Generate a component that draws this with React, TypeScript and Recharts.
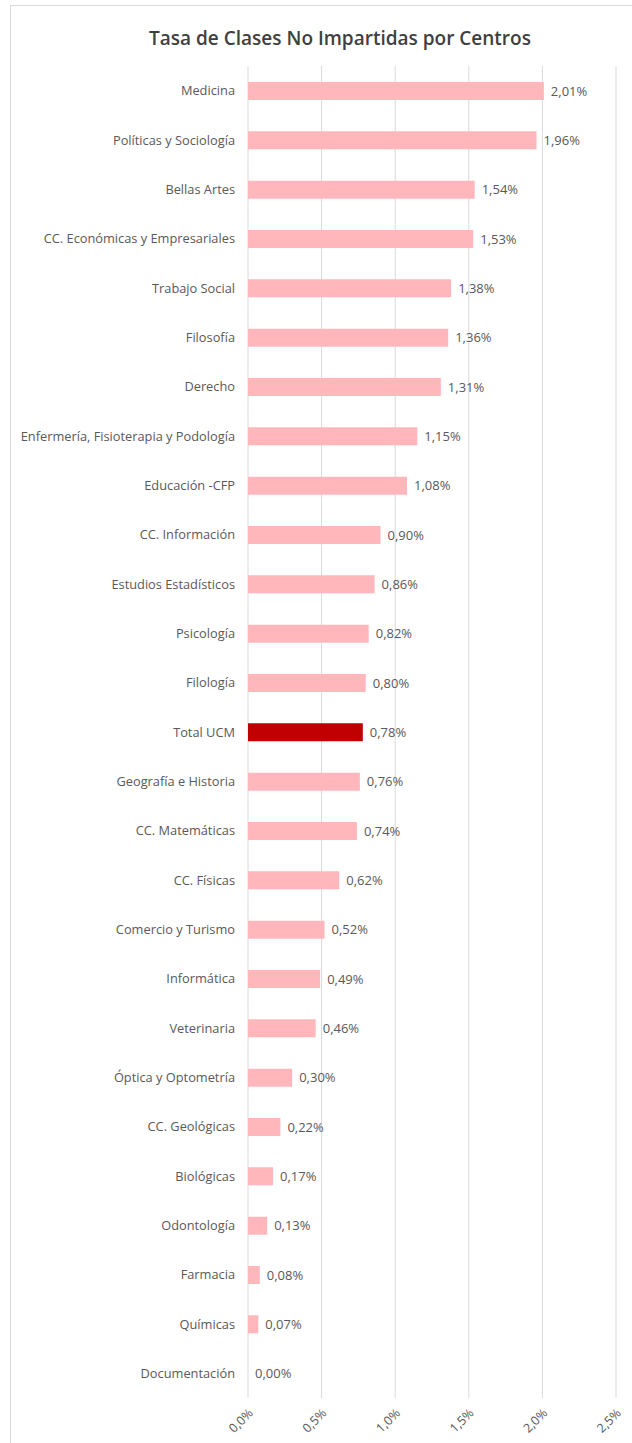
import React from "react";
import { BarChart, Bar, XAxis, YAxis, CartesianGrid, Cell, LabelList } from "recharts";

const categories = [
  "Medicina",
  "Políticas y Sociología",
  "Bellas Artes",
  "CC. Económicas y Empresariales",
  "Trabajo Social",
  "Filosofía",
  "Derecho",
  "Enfermería, Fisioterapia y Podología",
  "Educación -CFP",
  "CC. Información",
  "Estudios Estadísticos",
  "Psicología",
  "Filología",
  "Total UCM",
  "Geografía e Historia",
  "CC. Matemáticas",
  "CC. Físicas",
  "Comercio y Turismo",
  "Informática",
  "Veterinaria",
  "Óptica y Optometría",
  "CC. Geológicas",
  "Biológicas",
  "Odontología",
  "Farmacia",
  "Químicas",
  "Documentación",
];

const rates = [
  2.01, 1.96, 1.54, 1.53, 1.38, 1.36, 1.31, 1.15, 1.08, 0.9, 0.86, 0.82, 0.8, 0.78,
  0.76, 0.74, 0.62, 0.52, 0.49, 0.46, 0.3, 0.22, 0.17, 0.13, 0.08, 0.07, 0.0,
];

const xTicks = [0, 0.5, 1, 1.5, 2, 2.5];
const highlight = "Total UCM";

const data = categories.map((name, i) => ({ name, value: rates[i] }));

const FONT = "'Open Sans', Lato, sans-serif";
const TEXT = "#595959";

const YTick = (props: any) => {
  const { x, y, payload } = props;
  return (
    <text x={x - 5} y={y} dy={4.5} textAnchor="end" fill={TEXT} fontSize={12.8} fontFamily={FONT}>
      {payload.value}
    </text>
  );
};

const XTick = (props: any) => {
  const { x, y, payload } = props;
  const label = payload.value.toFixed(1).replace(".", ",") + "%";
  return (
    <g transform={`translate(${x + 3},${y + 5})`}>
      <text x={0} y={0} dy={4} textAnchor="end" transform="rotate(-45)" fill={TEXT} fontSize={12.5} fontFamily={FONT}>
        {label}
      </text>
    </g>
  );
};

const ValueLabel = (props: any) => {
  const { x, y, width, height, value } = props;
  return (
    <text
      x={Number(x) + Number(width) + 7}
      y={Number(y) + Number(height) / 2}
      dy={4.5}
      textAnchor="start"
      fill={TEXT}
      fontSize={13}
      fontFamily={FONT}
    >
      {Number(value).toFixed(2).replace(".", ",") + "%"}
    </text>
  );
};

export default function App() {
  return (
    <div style={{ position: "absolute", left: 0, top: 0, width: 632, height: 1443, overflow: "hidden", background: "#fff" }}>
      <div
        style={{
          position: "absolute",
          left: 10,
          top: 5,
          width: 700,
          height: 1500,
          borderLeft: "1px solid #d9d9d9",
          borderTop: "1px solid #d9d9d9",
        }}
      />
      <div
        style={{
          position: "absolute",
          left: 0,
          width: 680,
          top: 25,
          textAlign: "center",
          fontFamily: FONT,
          fontWeight: 600,
          fontSize: 19,
          color: "#404040",
          lineHeight: "26px",
        }}
      >
        Tasa de Clases No Impartidas por Centros
      </div>
      <div style={{ position: "absolute", left: 0, top: 0 }}>
        <BarChart
          width={632}
          height={1443}
          data={data}
          layout="vertical"
          margin={{ top: 66, right: 16, bottom: 0, left: 0 }}
        >
          <CartesianGrid horizontal={false} vertical={true} stroke="#d9d9d9" />
          <XAxis
            type="number"
            domain={[0, 2.5]}
            ticks={xTicks}
            height={45}
            axisLine={false}
            tickLine={false}
            tick={<XTick />}
            interval={0}
          />
          <YAxis
            type="category"
            dataKey="name"
            width={248}
            axisLine={false}
            tickLine={false}
            tick={<YTick />}
            interval={0}
          />
          <Bar
            dataKey="value"
            barSize={18}
            isAnimationActive={false}
            minPointSize={(v: any) => (Number(v) === 0 ? 0.01 : 0)}
          >
            {data.map((d) => (
              <Cell key={d.name} fill={d.name === highlight ? "#C00000" : "#FFB7BC"} />
            ))}
            <LabelList dataKey="value" content={<ValueLabel />} />
          </Bar>
        </BarChart>
      </div>
    </div>
  );
}
